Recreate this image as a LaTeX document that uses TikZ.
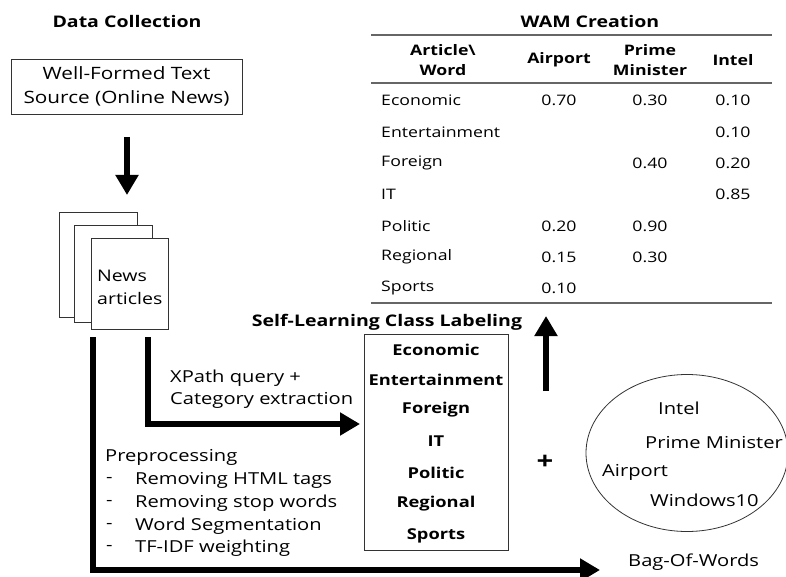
\documentclass[tikz,border=0pt]{standalone}
\usepackage{fontspec}
\setmainfont{Open Sans}[FakeStretch=1.22]
\usetikzlibrary{arrows.meta,shapes.geometric}
\begin{document}
\begin{tikzpicture}[x=1pt,y=-1pt,
  txt/.style={font=\fontsize{16.5}{20}\selectfont, inner sep=0pt},
  tab/.style={font=\fontsize{14.5}{18}\selectfont, inner sep=0pt},
  bld/.style={font=\fontsize{16}{19}\selectfont\bfseries, inner sep=0pt},
  hdr/.style={font=\fontsize{14.5}{20}\selectfont\bfseries, inner sep=0pt, align=center},
  cl/.style={font=\fontsize{15}{18}\selectfont\bfseries, inner sep=0pt},
  box/.style={draw=black!80, line width=0.8pt, fill=white},
  big/.style={line width=6.5pt, -{Triangle[width=22pt,length=20pt]}},
  tabrule/.style={draw=black!60, line width=1.5pt}]
\useasboundingbox (0,0) rectangle (786,577);

% Data collection
\node[bld] (dc) at (127,22) {Data Collection};
\node[box, minimum width=231pt, minimum height=55pt, align=center, inner sep=0pt,
      font=\fontsize{17}{24}\selectfont] (src) at (126.5,86.5) {Well-Formed Text\\Source (Online News)};
\coordinate (d1) at (127,137);
\coordinate (d2) at (127,195);
\draw[big] (d1) -- (d2);

% pages
\node[box, minimum width=78pt, minimum height=105pt] (p1) at (98,264.5) {};
\node[box, minimum width=78pt, minimum height=97pt] (p2) at (113,273.5) {};
\node[box, minimum width=77pt, minimum height=91pt] (p3) at (129.5,283.5) {};
\node[align=left, font=\fontsize{16}{23}\selectfont, inner sep=0pt, anchor=west] (na) at (97,287) {News\\articles};

% WAM table
\node[bld] (wam) at (590,22) {WAM Creation};
\coordinate (r1a) at (371,35);  \coordinate (r1b) at (772,35);
\coordinate (r2a) at (371,83);  \coordinate (r2b) at (772,83);
\coordinate (r3a) at (371,303); \coordinate (r3b) at (772,303);
\draw[tabrule] (r1a) -- (r1b);
\draw[tabrule] (r2a) -- (r2b);
\draw[tabrule] (r3a) -- (r3b);
\node[hdr] (h0) at (443,60) {Article\textbackslash\\Word};
\node[hdr] (h1) at (559,60) {Airport};
\node[hdr] (h2) at (650,60) {Prime\\Minister};
\node[hdr] (h3) at (733,60) {Intel};

\node[tab, anchor=west] (e0) at (381,100) {Economic};
\node[tab, anchor=west] (e1) at (381,132) {Entertainment};
\node[tab, anchor=west] (e2) at (381,163) {Foreign};
\node[tab, anchor=west] (e3) at (381,194) {IT};
\node[tab, anchor=west] (e4) at (381,226) {Politic};
\node[tab, anchor=west] (e5) at (381,257) {Regional};
\node[tab, anchor=west] (e6) at (381,288) {Sports};

\node[tab] (v01) at (559,100) {0.70};
\node[tab] (v02) at (650,100) {0.30};
\node[tab] (v03) at (733,100) {0.10};
\node[tab] (v13) at (733,132) {0.10};
\node[tab] (v22) at (650,163) {0.40};
\node[tab] (v23) at (733,163) {0.20};
\node[tab] (v33) at (733,194) {0.85};
\node[tab] (v41) at (559,226) {0.20};
\node[tab] (v42) at (650,226) {0.90};
\node[tab] (v51) at (559,257) {0.15};
\node[tab] (v52) at (650,257) {0.30};
\node[tab] (v61) at (559,288) {0.10};

% Self-learning class labeling
\node[bld] (sl) at (387,322) {Self-Learning Class Labeling};
\node[box, minimum width=144pt, minimum height=216pt] (cls) at (436,442) {};
\node[cl] (c0) at (436,350) {Economic};
\node[cl] (c1) at (436,380) {Entertainment};
\node[cl] (c2) at (436,410) {Foreign};
\node[cl] (c3) at (436,441) {IT};
\node[cl] (c4) at (436,473) {Politic};
\node[cl] (c5) at (436,504) {Regional};
\node[cl] (c6) at (436,536) {Sports};

% up arrow to table
\coordinate (u1) at (546,391);
\coordinate (u2) at (546,316);
\draw[big] (u1) -- (u2);

% plus
\node[font=\fontsize{24}{24}\selectfont\bfseries, inner sep=0pt] (plus) at (545,462) {+};

% bag of words ellipse
\node[ellipse, draw=black!80, line width=0.8pt, minimum width=202pt, minimum height=157pt] (bag) at (687,453) {};
\node[txt, anchor=west] (w1) at (658,408) {Intel};
\node[txt, anchor=west] (w2) at (645,443) {Prime Minister};
\node[txt, anchor=west] (w3) at (602,472) {Airport};
\node[txt, anchor=west] (w4) at (650,500) {Windows10};
\node[txt, anchor=west] (bow) at (628,562) {Bag-Of-Words};

% XPath arrow
\coordinate (x1) at (148,337);
\coordinate (x2) at (360,424);
\draw[big] (x1) |- (x2);
\node[txt, anchor=west, align=left, font=\fontsize{16.5}{22}\selectfont] (xq) at (170,389) {XPath query +\\Category extraction};

% Preprocessing arrow
\coordinate (b1) at (93,337);
\coordinate (b2) at (600,570);
\draw[big] (b1) |- (b2);
\node[txt, anchor=west] (pp) at (105,457) {Preprocessing};
\node[txt, anchor=west] (pd1) at (106,480) {-};
\node[txt, anchor=west] (pd2) at (106,503) {-};
\node[txt, anchor=west] (pd3) at (106,526) {-};
\node[txt, anchor=west] (pd4) at (106,548) {-};
\node[txt, anchor=west] (pi1) at (135,480) {Removing HTML tags};
\node[txt, anchor=west] (pi2) at (135,503) {Removing stop words};
\node[txt, anchor=west] (pi3) at (135,526) {Word Segmentation};
\node[txt, anchor=west] (pi4) at (135,548) {TF-IDF weighting};
\end{tikzpicture}
\end{document}
